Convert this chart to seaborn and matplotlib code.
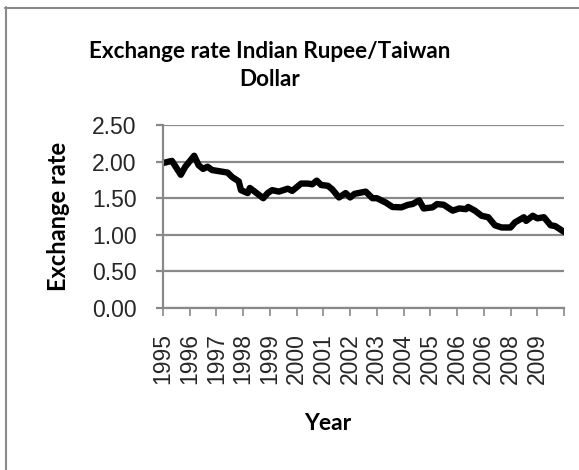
import matplotlib
matplotlib.use("Agg")
import matplotlib.pyplot as plt
import seaborn as sns
import pandas as pd
from matplotlib.lines import Line2D

# Monthly observations (months since Jan 1995) and INR per TWD
months = [0, 4, 8, 10, 14, 16, 18, 20, 22, 29, 31, 34, 35, 38, 39, 42, 45, 47,
          49, 52, 56, 58, 62, 65, 67, 69, 71, 74, 76, 79, 82, 84, 86, 91, 94,
          96, 100, 103, 107, 110, 112, 115, 117, 121, 123, 126, 130, 133, 136,
          137, 140, 143, 146, 149, 152, 156, 158, 162, 163, 166, 168, 171, 174,
          176, 180]
rates = [1.98, 2.01, 1.82, 1.93, 2.08, 1.95, 1.90, 1.93, 1.885, 1.85, 1.79,
         1.73, 1.61, 1.57, 1.64, 1.57, 1.50, 1.57, 1.61, 1.59, 1.63, 1.60,
         1.70, 1.70, 1.69, 1.74, 1.68, 1.67, 1.62, 1.51, 1.57, 1.51, 1.56,
         1.59, 1.50, 1.50, 1.44, 1.38, 1.375, 1.41, 1.42, 1.47, 1.36, 1.375,
         1.42, 1.41, 1.33, 1.36, 1.35, 1.38, 1.33, 1.26, 1.24, 1.13, 1.10,
         1.10, 1.17, 1.24, 1.19, 1.26, 1.225, 1.24, 1.13, 1.12, 1.04]

year_labels = ["1995", "1996", "1997", "1998", "1999", "2000", "2001", "2002",
               "2003", "2004", "2005", "2006", "2006", "2008", "2009"]
y_ticks = [0.0, 0.5, 1.0, 1.5, 2.0, 2.5]

df = pd.DataFrame({"month": months, "rate": rates})

sns.set_style("white")
W, H = 579, 470
fig = plt.figure(figsize=(W / 100, H / 100), dpi=100)
ax = fig.add_axes([163 / W, 1 - 308 / H, (564 - 163) / W, (308 - 125) / H])

grey = "#898989"
sns.lineplot(data=df, x="month", y="rate", ax=ax, color="black",
             linewidth=4.6, solid_capstyle="round", solid_joinstyle="round")

ax.set_xlim(0, 180)
ax.set_ylim(0, 2.5)
ax.set_yticks(y_ticks)
ax.set_yticklabels([f"{v:.2f}" for v in y_ticks])
ax.set_xticks(list(range(0, 181, 12)))
ax.set_xticklabels(year_labels + [""], rotation=90)
ax.yaxis.grid(True, color=grey, linewidth=1.6)
ax.xaxis.grid(False)

for side in ["top", "right"]:
    ax.spines[side].set_visible(False)
for side in ["left", "bottom"]:
    ax.spines[side].set_color(grey)
    ax.spines[side].set_linewidth(1.6)

for lab in ax.get_xticklabels() + ax.get_yticklabels():
    lab.set_fontfamily("Liberation Sans")
    lab.set_fontsize(16.5)
ax.tick_params(axis="x", direction="out", length=6, width=1.2, color=grey,
               pad=12, bottom=True)
ax.tick_params(axis="y", direction="out", length=5, width=1.6, color=grey,
               pad=14, left=True)
ax.set_xlabel("")
ax.set_ylabel("")

bold = dict(family="Lato", weight="bold", color="black")
fig.text(270 / W, 1 - 52 / H, "Exchange rate Indian Rupee/Taiwan",
         ha="center", va="center", fontsize=16.2, **bold)
fig.text(270 / W, 1 - 79 / H, "Dollar", ha="center", va="center",
         fontsize=16.2, **bold)
fig.text(59 / W, 1 - 216 / H, "Exchange rate", ha="center", va="center",
         rotation=90, fontsize=17, **bold)
fig.text(328 / W, 1 - 424 / H, "Year", ha="center", va="center",
         fontsize=16.5, **bold)

# chart area border (left and top edges)
fig.add_artist(Line2D([5.5 / W, 5.5 / W], [0, 1 - 7 / H], color=grey,
                      linewidth=1.5, transform=fig.transFigure))
fig.add_artist(Line2D([5 / W, 1], [1 - 7.5 / H, 1 - 7.5 / H], color=grey,
                      linewidth=1.5, transform=fig.transFigure))

fig.savefig("out.png", dpi=100)
